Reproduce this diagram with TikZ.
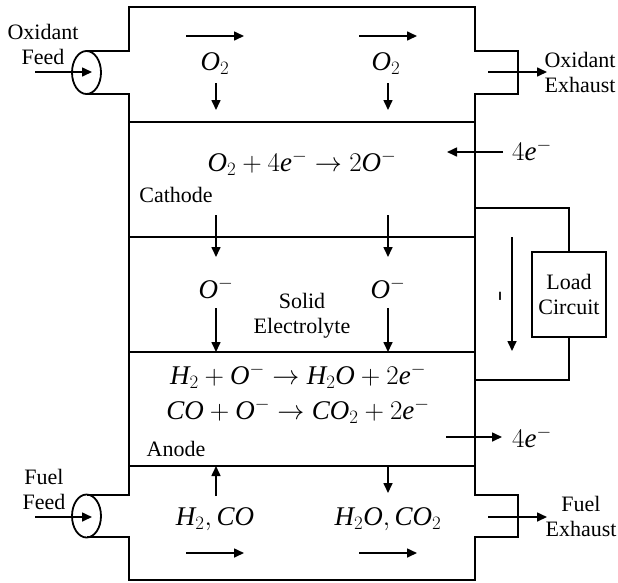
\RequirePackage{fix-cm}
\documentclass[tikz,border=0pt]{standalone}
\usepackage{fontspec}
\setmainfont{Liberation Serif}
\usetikzlibrary{positioning,arrows.meta}

\newcommand{\spc}[1]{\mathit{#1}}

\tikzset{
  wall/.style={line width=1.8pt},
  flow/.style={line width=1.6pt,-{Triangle[length=10pt,width=9pt]}},
  lbl/.style={font=\fontsize{22}{25}\selectfont,align=center,inner sep=0pt},
  eqn/.style={font=\fontsize{27}{30}\selectfont,inner sep=0pt},
}

\begin{document}
\begin{tikzpicture}[x=1pt,y=-1pt]
  \useasboundingbox (0,0) rectangle (618,582);
  % cell outline with the four pipe stubs
  \draw[wall] (87,51) -- (129,51) -- (129,7) -- (475,7) -- (475,51) -- (518,51) -- (518,94) -- (475,94)
    -- (475,495) -- (518,495) -- (518,537) -- (475,537) -- (475,580) -- (129,580) -- (129,537) -- (87,537);
  \draw[wall] (87,495) -- (129,495) -- (129,94) -- (87,94);
  % layer boundaries: channel / cathode / electrolyte / anode / channel
  \foreach \yy in {122,237,352,466}
    \draw[wall] (129,\yy) -- (475,\yy);
  \draw[wall] (86.5,72.5) ellipse [x radius=14.5,y radius=21.5];
  \draw[wall] (86.5,516) ellipse [x radius=14.5,y radius=21.5];

  % external load
  \node[lbl,draw,wall,minimum width=74pt,minimum height=85pt] (load) at (569,294.5) {Load\\Circuit};
  \coordinate (wtop) at (475,208);
  \coordinate (wbot) at (475,380);
  \draw[wall] (wtop) -| (load.north);
  \draw[wall] (load.south) |- (wbot);

  % labels
  \node[lbl] (oxfeed) at (43,44) {Oxidant\\Feed};
  \node[lbl] (oxexh) at (580,72) {Oxidant\\Exhaust};
  \node[lbl] (fufeed) at (44,489) {Fuel\\Feed};
  \node[lbl] (fuexh) at (581,516) {Fuel\\Exhaust};
  \node[lbl] (cath) at (176,195) {Cathode};
  \node[lbl] (anod) at (176,449) {Anode};
  \node[lbl] (elyt) at (302,316) {Solid\\Electrolyte};
  \node[font=\fontsize{12}{12}\selectfont\sffamily\bfseries,inner sep=0pt] (curI) at (500,296) {I};

  % species and reactions
  \node[eqn] (oxa) at (215,64) {$\spc{O}_2$};
  \node[eqn] (oxb) at (386,64) {$\spc{O}_2$};
  \node[eqn] (rcat) at (302,163) {$\spc{O}_2+4\spc{e}^-\rightarrow 2\spc{O}^-$};
  \node[eqn] (ina) at (216,288) {$\spc{O}^-$};
  \node[eqn] (inb) at (388,288) {$\spc{O}^-$};
  \node[eqn] (ran1) at (298,376) {$\spc{H}_2+\spc{O}^-\rightarrow \spc{H}_2\spc{O}+2\spc{e}^-$};
  \node[eqn] (ran2) at (298,411) {$\spc{CO}+\spc{O}^-\rightarrow \spc{CO}_2+2\spc{e}^-$};
  \node[eqn] (fua) at (215,519) {$\spc{H}_2,\spc{CO}$};
  \node[eqn] (fub) at (388,519) {$\spc{H}_2\spc{O},\spc{CO}_2$};
  \node[eqn] (ein) at (532,150) {$4\spc{e}^-$};
  \node[eqn] (eout) at (532,437) {$4\spc{e}^-$};

  % flow arrows: name / start / end
  \foreach \n/\xa/\ya/\xb/\yb in {
    oxin/35/72/92/72, oxout/488/72/547/72,
    tfa/186/36/244/36, tfb/359/36/417/36,
    tda/216/83/216/110, tdb/388/83/388/110,
    cda/216/215/216/257, cdb/388/215/388/257,
    eda/216/308/216/352, edb/388/308/388/352,
    cur/512/237/512/351,
    eleft/503/152/447/152, eright/446/437/502/437,
    fup/216/496/216/466, fdn/388/466/388/493,
    bfa/186/553/244/553, bfb/359/553/417/553,
    fuin/35/517/92/517, fuout/488/517/547/517} {
    \coordinate (\n-s) at (\xa,\ya);
    \coordinate (\n-e) at (\xb,\yb);
    \draw[flow] (\n-s) -- (\n-e);
  }
\end{tikzpicture}
\end{document}
